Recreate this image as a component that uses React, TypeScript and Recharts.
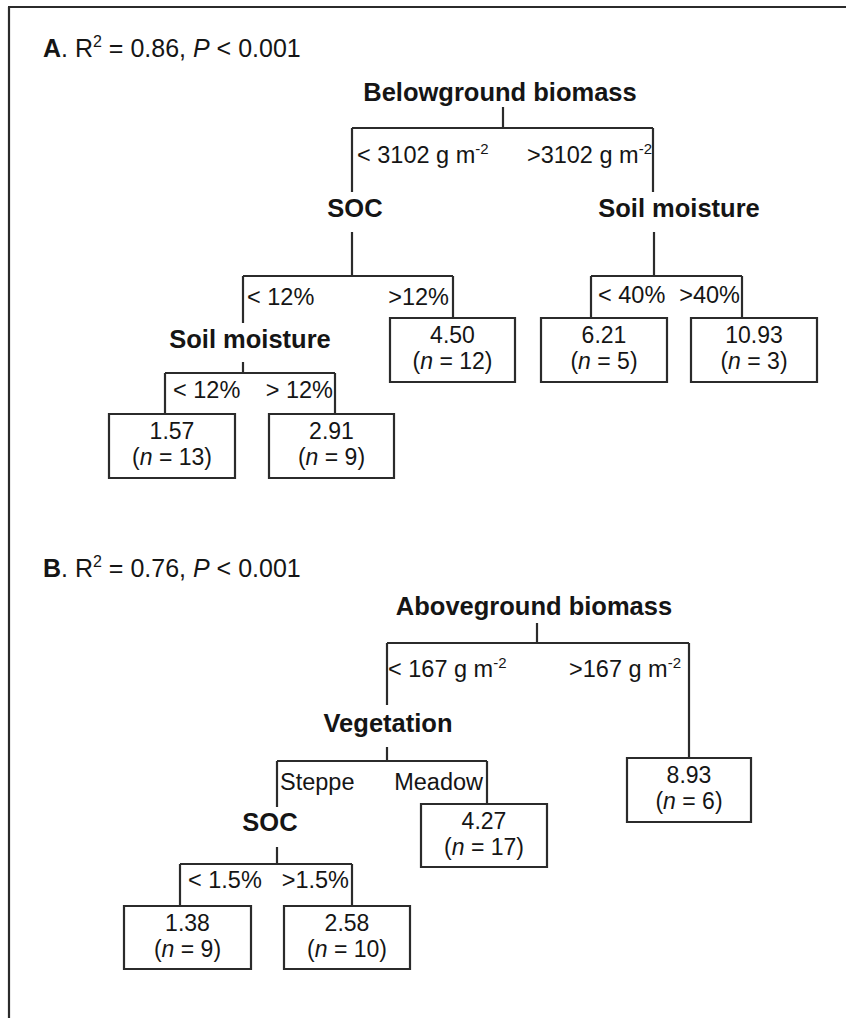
import React from 'react'
import {
  ComposedChart, XAxis, YAxis, Scatter, ReferenceLine, ReferenceArea
} from 'recharts'

const W = 846
const H = 1018
const FONT = '"Liberation Sans", Arial, Helvetica, sans-serif'
const INK = '#151515'
const LINE = '#2b2b2b'

// model summaries
const panels = ['A', 'B']
const rSquared = [0.86, 0.76]
const pText = ['< 0.001', '< 0.001']

// panel A: belowground biomass tree
const nodeNamesA = ['Belowground biomass', 'SOC', 'Soil moisture', 'Soil moisture']
const splitLabelsA = ['< 3102 g m^-2', '>3102 g m^-2', '< 12%', '>12%', '< 40%', '>40%', '< 12%', '> 12%']
const leafMeansA = [4.50, 6.21, 10.93, 1.57, 2.91]
const leafCountsA = [12, 5, 3, 13, 9]

// panel B: aboveground biomass tree
const nodeNamesB = ['Aboveground biomass', 'Vegetation', 'SOC']
const splitLabelsB = ['< 167 g m^-2', '>167 g m^-2', 'Steppe', 'Meadow', '< 1.5%', '>1.5%']
const leafMeansB = [8.93, 4.27, 1.38, 2.58]
const leafCountsB = [6, 17, 9, 10]

// layout (pixel space of the figure)
const titlePos = [[43, 57], [43, 577]]
const nodePosA = [[500, 101], [355, 217], [679, 217], [250, 348]]
const splitPosA = [
  [357, 163, 'start'], [652, 163, 'end'],
  [247, 305, 'start'], [449, 305, 'end'],
  [598, 303, 'start'], [740, 303, 'end'],
  [173, 398, 'start'], [333, 398, 'end'],
]
const leafBoxesA = [
  [390, 515, 318, 382], [541, 667, 318, 382], [691, 817, 318, 382],
  [109, 235, 414, 478], [269, 394, 414, 478],
]
const edgesA = [
  [503, 107, 503, 128], [352, 128, 653, 128], [352, 128, 352, 192], [653, 128, 653, 192],
  [352, 232, 352, 276], [243, 276, 453, 276], [243, 276, 243, 323], [453, 276, 453, 318],
  [654, 232, 654, 276], [591, 276, 742, 276], [591, 276, 591, 318], [742, 276, 742, 318],
  [243, 362, 243, 373], [165, 373, 335, 373], [165, 373, 165, 414], [335, 373, 335, 414],
]

const nodePosB = [[534, 615], [388, 732], [270, 831]]
const splitPosB = [
  [388, 677, 'start'], [681, 677, 'end'],
  [280, 790, 'start'], [483, 790, 'end'],
  [188, 888, 'start'], [349, 888, 'end'],
]
const leafBoxesB = [
  [627, 751, 758, 822], [421, 547, 804, 867],
  [124, 251, 906, 969], [284, 410, 906, 969],
]
const edgesB = [
  [537, 623, 537, 643], [387, 643, 689, 643], [387, 643, 387, 705], [689, 643, 689, 758],
  [387, 747, 387, 761], [277, 761, 487, 761], [277, 761, 277, 807], [487, 761, 487, 804],
  [277, 847, 277, 864], [180, 864, 352, 864], [180, 864, 180, 906], [352, 864, 352, 906],
]

const frame = [[8, 7, 846, 7], [9, 7, 9, 1018]]

const edges = [...frame, ...edgesA, ...edgesB]
const boxes = [...leafBoxesA, ...leafBoxesB]

const titleData = panels.map((p, i) => ({
  x: titlePos[i][0], y: titlePos[i][1], panel: p, r2: rSquared[i], p: pText[i],
}))
const nodeData = [
  ...nodeNamesA.map((t, i) => ({ x: nodePosA[i][0], y: nodePosA[i][1], text: t })),
  ...nodeNamesB.map((t, i) => ({ x: nodePosB[i][0], y: nodePosB[i][1], text: t })),
]
const splitData = [
  ...splitLabelsA.map((t, i) => ({ x: splitPosA[i][0], y: splitPosA[i][1], anchor: splitPosA[i][2], text: t })),
  ...splitLabelsB.map((t, i) => ({ x: splitPosB[i][0], y: splitPosB[i][1], anchor: splitPosB[i][2], text: t })),
]
const leafData = [
  ...leafMeansA.map((m, i) => ({
    x: (leafBoxesA[i][0] + leafBoxesA[i][1]) / 2, y: (leafBoxesA[i][2] + leafBoxesA[i][3]) / 2,
    mean: m, n: leafCountsA[i],
  })),
  ...leafMeansB.map((m, i) => ({
    x: (leafBoxesB[i][0] + leafBoxesB[i][1]) / 2, y: (leafBoxesB[i][2] + leafBoxesB[i][3]) / 2,
    mean: m, n: leafCountsB[i],
  })),
]

const TitleShape = (props: any) => {
  const d = props.payload
  return (
    <text x={props.cx} y={props.cy} fontSize={25} fill={INK} fontFamily={FONT}>
      <tspan fontWeight="bold">{d.panel}</tspan>
      <tspan>{'. R'}</tspan>
      <tspan dy={-10} fontSize={16}>2</tspan>
      <tspan dy={10}>{` = ${d.r2.toFixed(2)}, `}</tspan>
      <tspan fontStyle="italic">P</tspan>
      <tspan>{` ${d.p}`}</tspan>
    </text>
  )
}

const NodeShape = (props: any) => (
  <text x={props.cx} y={props.cy} fontSize={25.5} fontWeight="bold" textAnchor="middle" fill={INK} fontFamily={FONT}>
    {props.payload.text}
  </text>
)

const SplitShape = (props: any) => {
  const d = props.payload
  const [base, sup] = d.text.split('^')
  return (
    <text x={props.cx} y={props.cy} fontSize={23.5} textAnchor={d.anchor} fill={INK} fontFamily={FONT}>
      <tspan>{base}</tspan>
      {sup && <tspan dy={-9} fontSize={15}>{sup}</tspan>}
    </text>
  )
}

const LeafShape = (props: any) => {
  const d = props.payload
  return (
    <g>
      <text x={props.cx} y={props.cy - 7} fontSize={23} textAnchor="middle" fill={INK} fontFamily={FONT}>
        {d.mean.toFixed(2)}
      </text>
      <text x={props.cx} y={props.cy + 19} fontSize={23} textAnchor="middle" fill={INK} fontFamily={FONT}>
        <tspan>(</tspan>
        <tspan fontStyle="italic">n</tspan>
        <tspan>{` = ${d.n})`}</tspan>
      </text>
    </g>
  )
}

export default function App() {
  return (
    <div style={{ position: 'absolute', left: 0, top: 0, width: W, height: H, background: '#fff' }}>
      <ComposedChart width={W} height={H} margin={{ top: 0, right: 0, bottom: 0, left: 0 }}>
        <XAxis type="number" dataKey="x" domain={[0, W]} hide allowDataOverflow />
        <YAxis type="number" dataKey="y" domain={[0, H]} reversed hide allowDataOverflow />
        {edges.map((e, i) => (
          <ReferenceLine
            key={`e-${i}`}
            segment={[{ x: e[0], y: e[1] }, { x: e[2], y: e[3] }]}
            stroke={LINE}
            strokeWidth={2.2}
            ifOverflow="visible"
          />
        ))}
        {boxes.map((b, i) => (
          <ReferenceArea
            key={`b-${i}`}
            x1={b[0]} x2={b[1]} y1={b[2]} y2={b[3]}
            fill="#fff" fillOpacity={1} stroke={LINE} strokeWidth={2.2}
            ifOverflow="visible"
          />
        ))}
        <Scatter data={titleData} shape={TitleShape} isAnimationActive={false} />
        <Scatter data={nodeData} shape={NodeShape} isAnimationActive={false} />
        <Scatter data={splitData} shape={SplitShape} isAnimationActive={false} />
        <Scatter data={leafData} shape={LeafShape} isAnimationActive={false} />
      </ComposedChart>
    </div>
  )
}
